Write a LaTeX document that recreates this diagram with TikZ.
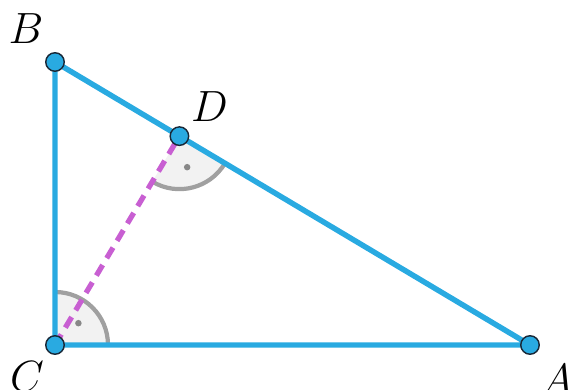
\documentclass[tikz,border=0pt]{standalone}
\usepackage{amsmath}
\usepackage{tikz}
\usetikzlibrary{
  calc,
  positioning
}
\definecolor{triblue}{RGB}{41,170,225}
\definecolor{triedge}{RGB}{25,40,55}
\definecolor{altpurple}{RGB}{200,95,210}
\definecolor{anglegray}{RGB}{160,160,160}
\definecolor{anglefill}{RGB}{242,242,242}
\tikzset{
  triSide/.style={
    draw=triblue,
    line width=3.1pt,
    line join=round
  },
  triAlt/.style={
    draw=altpurple,
    line width=3pt,
    dash pattern=on 7pt off 4.5pt
  },
  triAngle/.style={
    draw=anglegray,
    line width=2.4pt
  },
  triSector/.style={
    fill=anglefill
  },
  triDot/.style={
    circle,
    fill=anglegray!85!black,
    inner sep=0pt,
    minimum size=0.13cm
  },
  triPoint/.style={
    circle,
    draw=triedge,
    fill=triblue,
    line width=0.8pt,
    inner sep=0pt,
    minimum size=0.37cm
  },
  triLabel/.style={
    font=\fontsize{23}{28}\selectfont,
    inner sep=0pt
  }
}

\begin{document}
\begin{tikzpicture}
  \useasboundingbox (0,0) rectangle (11.4,7.8);

  \coordinate (C) at (1.1,0.9);
  \coordinate (B) at (1.1,6.56);
  \coordinate (A) at (10.6,0.9);
  \coordinate (D) at ($(B)!(C)!(A)$);

  % right angle at C
  \fill[triSector] (C) -- ++(0:1.06)
    arc[start angle=0, end angle=90, radius=1.06] -- cycle;
  \draw[triAngle] ($(C)+(0:1.06)$)
    arc[start angle=0, end angle=90, radius=1.06];
  \node[triDot] (dotC) at ($(C)+(43:0.64)$) {};

  % right angle at D
  \fill[triSector] (D) -- ++(-30.8:1.06)
    arc[start angle=-30.8, end angle=-120.8, radius=1.06] -- cycle;
  \draw[triAngle] ($(D)+(-30.8:1.06)$)
    arc[start angle=-30.8, end angle=-120.8, radius=1.06];
  \node[triDot] (dotD) at ($(D)+(-76:0.64)$) {};

  \draw[triAlt] (C) -- (D);
  \draw[triSide] (A) -- (B) -- (C) -- cycle;

  \node[triPoint] (ptA) at (A) {};
  \node[triPoint] (ptB) at (B) {};
  \node[triPoint] (ptC) at (C) {};
  \node[triPoint] (ptD) at (D) {};

  \node[triLabel] (labA) at ($(ptA)+(0.54,-0.70)$) {$A$};
  \node[triLabel] (labB) at ($(ptB)+(-0.58,0.66)$) {$B$};
  \node[triLabel] (labC) at ($(ptC)+(-0.56,-0.64)$) {$C$};
  \node[triLabel] (labD) at ($(ptD)+(0.60,0.60)$) {$D$};
\end{tikzpicture}
\end{document}
